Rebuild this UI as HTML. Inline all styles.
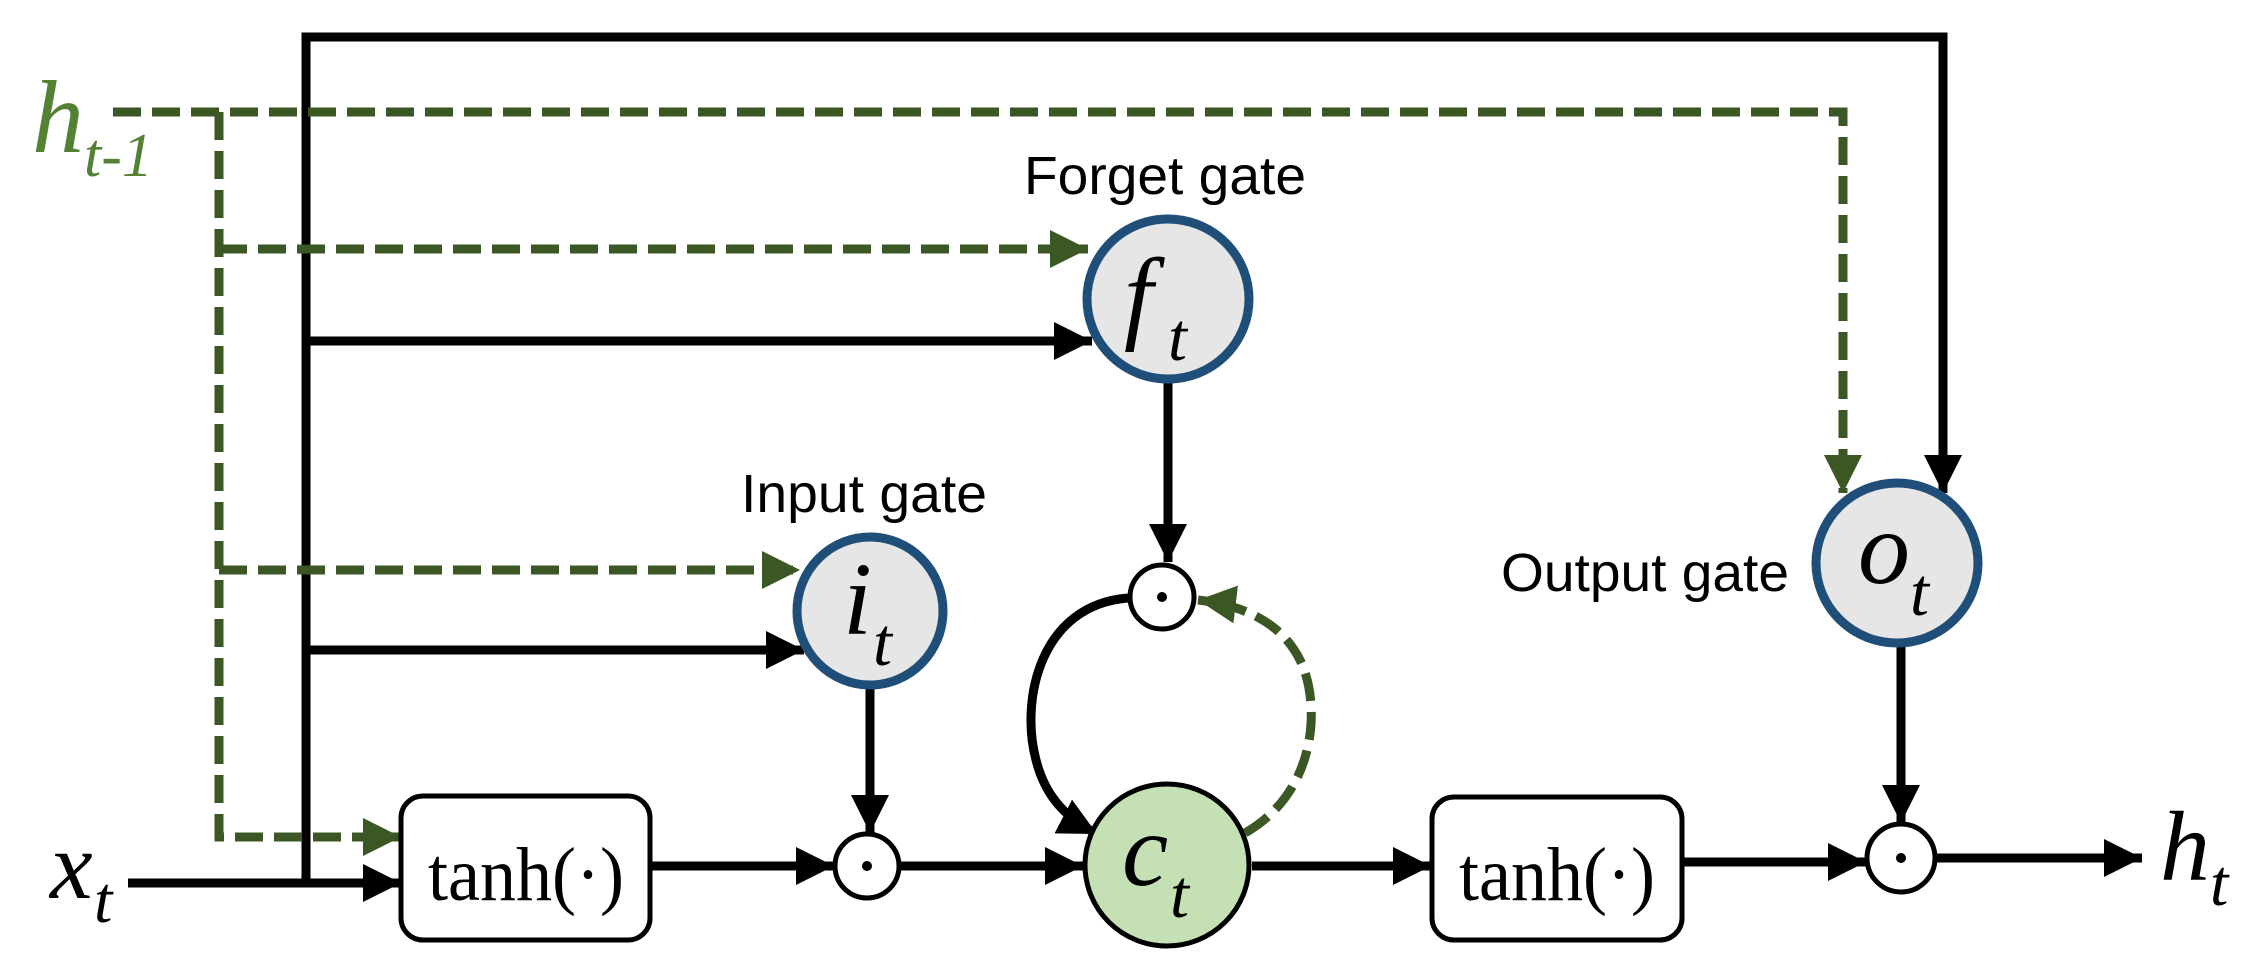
<!DOCTYPE html>
<html><head><meta charset="utf-8"><style>
html,body{margin:0;padding:0;background:#fff;}
svg{display:block;}
.m{font-family:"Liberation Serif",serif;font-style:italic;}
.s{font-family:"Liberation Sans",sans-serif;}
</style></head><body>
<svg width="2246" height="976" viewBox="0 0 2246 976" xmlns="http://www.w3.org/2000/svg">
<defs>
<marker id="ab" markerUnits="userSpaceOnUse" markerWidth="42" markerHeight="42" refX="38" refY="19" orient="auto"><path d="M0,0 L38,19 L0,38 Z" fill="#000"/></marker>
<marker id="ag" markerUnits="userSpaceOnUse" markerWidth="42" markerHeight="42" refX="38" refY="19" orient="auto"><path d="M0,0 L38,19 L0,38 Z" fill="#3b5723"/></marker>
</defs>
<g fill="none" stroke="#000" stroke-width="9">
<polyline points="306,887 306,37 1943,37 1943,493" marker-end="url(#ab)"/>
<line x1="306" y1="341" x2="1092" y2="341" marker-end="url(#ab)"/>
<line x1="306" y1="650" x2="804" y2="650" marker-end="url(#ab)"/>
<line x1="128" y1="883" x2="401" y2="883" marker-end="url(#ab)"/>
<line x1="650" y1="866" x2="834" y2="866" marker-end="url(#ab)"/>
<line x1="900" y1="866" x2="1083" y2="866" marker-end="url(#ab)"/>
<line x1="1252" y1="866" x2="1431" y2="866" marker-end="url(#ab)"/>
<line x1="1683" y1="862" x2="1866" y2="862" marker-end="url(#ab)"/>
<line x1="1934" y1="858" x2="2142" y2="858" marker-end="url(#ab)"/>
<line x1="1168" y1="382" x2="1168" y2="562" marker-end="url(#ab)"/>
<line x1="870" y1="688" x2="870" y2="833" marker-end="url(#ab)"/>
<line x1="1901" y1="647" x2="1901" y2="823" marker-end="url(#ab)"/>
<path d="M1128,598 C1040,605 1020,700 1036,760 C1046,800 1070,820 1097,834" marker-end="url(#ab)"/>
</g>
<g fill="none" stroke="#3b5723" stroke-width="9" stroke-dasharray="28,11">
<polyline points="113,112 1843,112 1843,493" marker-end="url(#ag)"/>
<polyline points="219,112 219,837 401,837" marker-end="url(#ag)"/>
<line x1="219" y1="249" x2="1088" y2="249" marker-end="url(#ag)"/>
<line x1="219" y1="570" x2="800" y2="570" marker-end="url(#ag)"/>
<path d="M1245,833 C1320,790 1320,700 1300,660 C1280,620 1240,605 1198,600" marker-end="url(#ag)"/>
</g>
<ellipse cx="1168" cy="299" rx="81" ry="80" fill="#e6e6e6" stroke="#1f4e79" stroke-width="9"/>
<ellipse cx="870" cy="611" rx="73" ry="74" fill="#e6e6e6" stroke="#1f4e79" stroke-width="9"/>
<ellipse cx="1897" cy="563" rx="81" ry="80" fill="#e6e6e6" stroke="#1f4e79" stroke-width="9"/>
<ellipse cx="1167" cy="865" rx="82" ry="81" fill="#c5e0b4" stroke="#000" stroke-width="5"/>
<g fill="#fff" stroke="#000" stroke-width="5">
<circle cx="1162" cy="597" r="32"/>
<circle cx="867" cy="866" r="32"/>
<circle cx="1901" cy="858" r="34"/>
</g>
<g fill="#000"><circle cx="1162" cy="597" r="5"/><circle cx="867" cy="866" r="5"/><circle cx="1901" cy="858" r="5"/></g>
<rect x="401" y="796" width="249" height="144" rx="22" fill="#fff" stroke="#000" stroke-width="5"/>
<rect x="1432" y="797" width="250" height="143" rx="22" fill="#fff" stroke="#000" stroke-width="5"/>
<text x="526" y="900" font-family="Liberation Serif,serif" font-size="76" text-anchor="middle" textLength="196" lengthAdjust="spacingAndGlyphs">tanh(·)</text>
<text x="1557" y="900" font-family="Liberation Serif,serif" font-size="76" text-anchor="middle" textLength="196" lengthAdjust="spacingAndGlyphs">tanh(·)</text>
<text class="s" x="1024" y="194" font-size="54" textLength="282" lengthAdjust="spacingAndGlyphs">Forget gate</text>
<text class="s" x="741" y="512" font-size="54" textLength="246" lengthAdjust="spacingAndGlyphs">Input gate</text>
<text class="s" x="1501" y="591" font-size="54" textLength="288" lengthAdjust="spacingAndGlyphs">Output gate</text>
<text class="m" x="1124" y="330" font-size="104">f</text><text class="m" x="1168" y="360" font-size="68">t</text>
<text class="m" x="843" y="634" font-size="104">i</text><text class="m" x="873" y="665" font-size="68">t</text>
<text class="m" x="1858" y="583" font-size="104">o</text><text class="m" x="1910" y="615" font-size="68">t</text>
<text class="m" x="1122" y="885" font-size="104">c</text><text class="m" x="1170" y="917" font-size="68">t</text>
<text class="m" x="50" y="898" font-size="96">x</text><text class="m" x="94" y="922" font-size="66">t</text>
<text class="m" x="2160" y="880" font-size="100">h</text><text class="m" x="2210" y="905" font-size="66">t</text>
<text class="m" x="32" y="152" font-size="104" fill="#548235">h</text><text class="m" x="84" y="176" font-size="62" fill="#548235">t-1</text>
</svg>
</body></html>
